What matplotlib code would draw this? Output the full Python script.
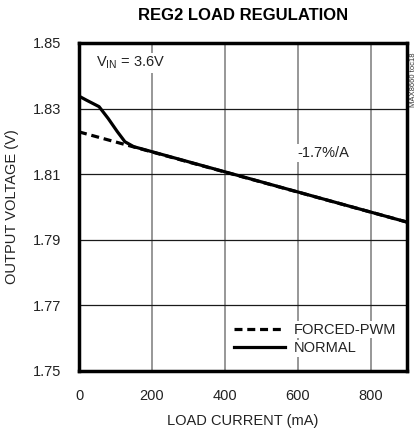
import matplotlib
matplotlib.use("Agg")
import matplotlib.pyplot as plt
from matplotlib import font_manager

names = {f.name for f in font_manager.fontManager.ttflist}
FONT = "Liberation Sans Narrow" if "Liberation Sans Narrow" in names else "Liberation Sans"
plt.rcParams['font.family'] = [FONT, 'DejaVu Sans']

# Data
pwm_x = [0, 900]
pwm_y = [1.8229, 1.7954]
normal_x = [0, 20, 55, 80, 105, 126, 150, 900]
normal_y = [1.8338, 1.8326, 1.8306, 1.8270, 1.8230, 1.8199, 1.8184, 1.7954]

xticks = [0, 200, 400, 600, 800]
yticks = [1.75, 1.77, 1.79, 1.81, 1.83, 1.85]

fig = plt.figure(figsize=(4.19, 4.33), dpi=100)
ax = fig.add_axes([79/419, 1-371/433, 328/419, 328/433])
ax.set_xlim(0, 900)
ax.set_ylim(1.75, 1.85)

for x in xticks[1:]:
    ax.axvline(x, color='#7a7a7a', lw=1.1, zorder=1)
for y in yticks[1:-1]:
    ax.axhline(y, color='#1a1a1a', lw=0.9, zorder=1)

ax.plot(pwm_x, pwm_y, color='black', lw=2.3, ls=(0, (2.5, 1.5)), zorder=3, label='FORCED-PWM')
ax.plot(normal_x, normal_y, color='black', lw=2.3, zorder=3, label='NORMAL')

ax.set_xticks(xticks)
ax.set_yticks(yticks)
ax.set_xticklabels([str(v) for v in xticks])
ax.set_yticklabels([f"{v:.2f}" for v in yticks])
ax.tick_params(length=0, labelsize=10.5, colors='#222222')
ax.tick_params(axis='x', pad=13)
ax.tick_params(axis='y', pad=13)
for s in ax.spines.values():
    s.set_linewidth(2.5)
    s.set_color('black')

ax.set_xlabel('LOAD CURRENT (mA)', fontsize=10.5, color='#222222', labelpad=8)
ax.set_ylabel('OUTPUT VOLTAGE (V)', fontsize=10.5, color='#222222', labelpad=10)

fig.text(243/419, 1-16/433, 'REG2 LOAD REGULATION', ha='center', va='center',
         fontsize=12, fontweight='bold', color='black')

bb = dict(facecolor='white', edgecolor='none', pad=1.5)
ax.text(48, 1.8439, r'V$_{\mathregular{IN}}$ = 3.6V', fontsize=10.5, ha='left', va='center',
        color='#222222', bbox=bb, zorder=4)
ax.text(598, 1.8164, '-1.7%/A', fontsize=10.5, ha='left', va='center',
        color='#222222', bbox=bb, zorder=4)

fig.text(413/419, 1-80/433, 'MAX8660 toc18', rotation=90, ha='center', va='center',
         fontsize=5.5, color='#333333')

leg = ax.legend(loc='lower right', bbox_to_anchor=(1.0, 0.015), frameon=False, fontsize=10.5,
                handlelength=3.5, handletextpad=0.6, labelspacing=0.3,
                borderaxespad=0.35)
for t in leg.get_texts():
    t.set_color('#222222')
    t.set_bbox(dict(facecolor='white', edgecolor='none', pad=1))

fig.savefig('out.png', dpi=100)
